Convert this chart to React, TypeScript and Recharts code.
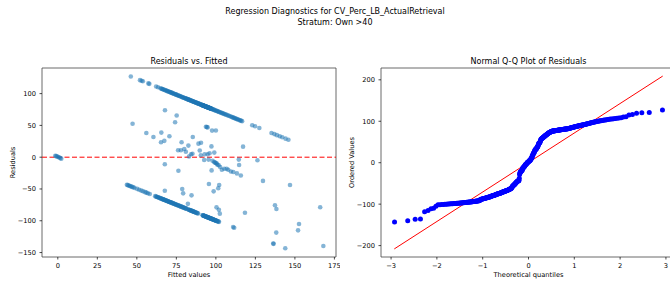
import { ScatterChart, Scatter, XAxis, YAxis, ReferenceLine, ReferenceArea } from 'recharts'

// [fitted, residual]
const upperBand: [number, number][] = [
  [46.2, 127.0], [52.0, 121.2], [53.0, 120.3], [53.8, 119.5], [57.3, 116.1], [57.9, 115.4], [62.2, 111.1], [63.4, 110.0], [65.0, 108.4],
  [65.6, 107.7], [66.1, 107.3], [66.4, 106.9], [67.0, 106.3], [67.7, 105.7], [68.0, 105.3], [68.6, 104.8], [69.1, 104.2], [69.4, 103.9], [70.0, 103.3], [70.5, 102.9], [70.9, 102.4],
  [71.3, 102.0], [71.9, 101.5], [72.2, 101.1], [72.7, 100.6], [73.1, 100.2], [73.4, 99.9], [74.0, 99.3], [74.5, 98.8], [74.9, 98.4], [75.2, 98.1], [75.8, 97.5], [76.3, 97.0],
  [76.6, 96.7], [77.1, 96.2], [77.4, 95.9], [78.0, 95.3], [78.5, 94.8], [78.9, 94.4], [79.3, 94.0], [79.7, 93.6], [80.2, 93.1], [80.6, 92.7], [81.0, 92.3],
  [81.3, 92.0], [81.5, 91.8], [81.9, 91.4], [82.3, 91.0], [82.5, 90.8], [82.8, 90.5], [83.2, 90.1], [83.4, 89.9], [83.7, 89.6], [84.1, 89.2], [84.3, 89.0],
  [84.6, 88.7], [85.0, 88.3], [85.2, 88.1], [85.5, 87.8], [85.9, 87.4], [86.1, 87.2], [86.4, 86.9], [86.8, 86.5], [87.0, 86.3], [87.3, 86.0], [87.7, 85.6],
  [87.9, 85.4], [88.2, 85.1], [88.6, 84.7], [88.8, 84.5], [89.1, 84.2], [89.5, 83.8], [89.7, 83.6], [90.0, 83.3], [90.4, 82.9], [90.6, 82.7], [90.9, 82.4],
  [91.1, 82.2], [91.2, 82.1], [91.4, 81.9], [91.5, 81.8], [91.7, 81.6], [91.8, 81.5], [91.9, 81.4], [92.1, 81.2], [92.2, 81.1], [92.4, 80.9], [92.5, 80.8],
  [92.7, 80.6], [92.8, 80.5], [92.9, 80.4], [93.1, 80.2], [93.2, 80.1], [93.3, 80.0], [93.5, 79.8], [93.6, 79.7], [93.8, 79.5], [93.9, 79.4], [94.0, 79.3],
  [94.2, 79.1], [94.3, 79.0], [94.5, 78.8], [94.6, 78.7], [94.7, 78.6], [94.9, 78.4], [95.0, 78.3], [95.2, 78.1], [95.3, 78.0], [95.4, 77.9], [95.6, 77.7],
  [95.7, 77.6], [95.9, 77.4], [96.0, 77.3], [96.1, 77.2], [96.3, 77.0], [96.4, 76.9], [96.5, 76.8], [96.7, 76.6], [96.8, 76.5], [97.0, 76.3], [97.1, 76.2], [97.3, 76.0],
  [97.6, 75.7], [98.0, 75.3], [98.5, 74.8], [98.9, 74.4], [99.4, 73.9], [99.8, 73.5], [100.3, 73.0], [100.8, 72.5], [101.2, 72.1], [101.8, 71.5], [102.3, 71.0],
  [102.9, 70.4], [103.4, 69.9], [104.0, 69.3], [104.6, 68.7], [105.1, 68.2], [105.8, 67.5], [106.4, 66.9], [107.1, 66.2], [107.9, 65.4], [108.6, 64.7], [109.4, 63.9],
  [110.1, 63.2], [110.7, 62.6], [111.3, 62.0], [111.8, 61.5], [112.4, 60.9], [113.0, 60.3], [113.5, 59.8], [114.1, 59.2], [114.8, 58.5], [115.4, 57.9], [116.0, 57.3], [116.6, 56.7],
  [123.0, 50.2], [124.8, 48.6], [127.5, 46.0],
  [135.2, 38.1], [137.0, 36.3], [138.6, 34.7], [140.4, 32.9], [142.0, 31.3], [144.1, 29.2], [145.9, 27.4],
]

const lowerBand: [number, number][] = [
  [43.7, -43.4], [44.3, -44.0], [44.9, -44.6], [45.6, -45.3], [46.2, -45.9], [47.0, -46.7], [47.7, -47.4], [48.5, -48.2], [50.2, -49.9], [51.5, -51.2], [52.9, -52.6],
  [54.0, -53.7], [55.3, -55.0], [56.1, -55.8], [57.0, -56.7], [58.2, -57.9],
  [61.6, -61.3], [62.1, -61.8], [62.5, -62.2], [62.9, -62.6], [63.4, -63.1], [63.7, -63.4], [64.3, -64.0], [64.6, -64.3], [65.1, -64.8], [65.4, -65.1], [65.8, -65.5],
  [66.1, -65.8], [66.5, -66.2], [66.7, -66.4], [67.1, -66.8], [67.3, -67.0], [67.6, -67.3], [68.0, -67.7], [68.2, -67.9], [68.5, -68.2], [68.9, -68.6], [69.1, -68.8],
  [69.4, -69.1], [69.8, -69.5], [70.0, -69.7], [70.3, -70.0], [70.7, -70.4], [70.9, -70.6], [71.2, -70.9], [71.6, -71.3], [71.8, -71.5], [72.2, -71.9], [72.6, -72.3],
  [72.9, -72.6], [73.2, -72.9], [73.7, -73.4], [73.9, -73.6], [74.3, -74.0], [74.7, -74.4], [75.0, -74.7], [75.3, -75.0], [75.8, -75.5], [76.0, -75.7], [76.4, -76.1],
  [76.9, -76.6], [77.2, -76.9], [77.6, -77.3], [78.1, -77.8], [78.4, -78.1], [78.8, -78.5], [79.3, -79.0], [79.6, -79.3], [80.0, -79.7], [80.5, -80.2], [80.8, -80.5],
  [81.2, -80.9], [81.5, -81.2],
  [82.6, -82.3], [82.9, -82.6], [83.3, -83.0], [83.5, -83.2], [83.9, -83.6], [84.2, -83.9], [84.6, -84.3], [84.8, -84.5], [85.1, -84.8], [85.5, -85.2], [85.7, -85.4],
  [86.0, -85.7], [86.4, -86.1], [86.6, -86.3], [86.9, -86.6], [87.3, -87.0], [87.6, -87.3], [88.0, -87.7], [88.3, -88.0], [88.8, -88.5],
  [91.6, -91.3], [91.8, -91.5], [92.0, -91.7], [92.3, -92.0], [92.4, -92.1], [92.6, -92.3], [92.9, -92.6], [93.0, -92.7], [93.2, -92.9], [93.5, -93.2], [93.6, -93.3],
  [93.8, -93.5], [94.1, -93.8], [94.2, -93.9], [94.4, -94.1], [94.7, -94.4], [94.8, -94.5], [95.0, -94.7], [95.3, -95.0], [95.4, -95.1], [95.6, -95.3], [95.9, -95.6],
  [96.0, -95.7], [96.2, -95.9], [96.5, -96.2], [96.6, -96.3], [96.8, -96.5], [97.1, -96.8], [97.2, -96.9], [97.4, -97.1], [97.7, -97.4], [97.8, -97.5], [98.0, -97.7],
  [98.3, -98.0], [98.4, -98.1], [98.6, -98.3], [98.9, -98.6], [99.0, -98.7], [99.2, -98.9], [99.5, -99.2], [99.6, -99.3], [99.8, -99.5], [100.1, -99.8], [100.3, -100.0],
  [100.6, -100.3], [100.9, -100.6], [101.2, -100.9], [101.6, -101.3], [102.0, -101.7],
]

const nearZero: [number, number][] = [
  [-1.6, 2.1], [-1.0, 1.6], [-0.4, 1.0], [0.3, 0.3], [0.9, -0.5], [1.6, -1.4], [2.2, -2.3],
]

const scatterPos: [number, number][] = [
  [47.3, 52.5], [67.8, 73.9], [75.2, 65.6], [74.2, 55.0], [56.0, 38.0], [60.5, 31.7], [65.5, 38.7], [70.6, 33.0], [65.3, 23.6], [67.4, 25.7],
  [78.3, 23.4], [76.1, 10.9], [77.9, 10.9], [80.0, 12.8], [82.6, 18.2], [81.0, 8.5], [84.3, 4.6], [85.2, 5.4], [85.4, 31.7], [89.0, 21.3],
  [90.6, 22.8], [89.8, 10.6], [90.5, 3.1], [92.9, 4.7], [94.8, 4.7], [96.0, 6.2], [97.2, 17.0], [99.0, 7.2], [93.7, 47.8], [94.3, 47.3],
  [94.8, 46.9], [97.6, 41.8], [100.0, 42.1], [117.2, 16.6], [83.0, 1.0],
]

const scatterNeg: [number, number][] = [
  [92.6, -4.5], [95.4, -3.8], [97.9, -5.6], [98.9, -7.7], [99.5, -8.5], [100.0, -9.2], [100.6, -10.1], [101.0, -11.9], [101.8, -12.6], [102.7, -15.5],
  [103.8, -19.7], [105.3, -18.2], [106.8, -18.2], [107.8, -19.7], [109.5, -22.4], [111.0, -23.4], [113.3, -25.5], [115.8, -28.7], [97.3, -20.8], [114.5, -3.8],
  [114.7, -12.2], [126.3, -4.7], [67.7, -11.0], [76.3, -21.4], [95.6, -42.2], [98.6, -53.7], [101.5, -48.8], [102.1, -43.8], [67.7, -52.7], [78.7, -50.0],
  [79.3, -56.9], [84.6, -60.0], [82.3, -73.4], [100.4, -78.9], [101.9, -82.6], [102.5, -88.8], [118.4, -87.5], [129.8, -37.3], [146.9, -43.8], [137.4, -75.6],
  [138.3, -81.6], [138.2, -118.6], [136.3, -135.8], [136.5, -136.3], [143.9, -143.2], [152.6, -105.0], [152.0, -115.1], [166.0, -78.7], [168.0, -139.8],
  [110.9, -110.0], [111.6, -111.0],
]

const fittedTicks = [0, 25, 50, 75, 100, 125, 150, 175]
const residTicks = [-150, -100, -50, 0, 50, 100]
const quantTicks = [-3, -2, -1, 0, 1, 2, 3]
const orderedTicks = [-200, -100, 0, 100, 200]

// least-squares line of the probability plot, endpoints
const qqLine = [
  { x: -2.93, y: -208 },
  { x: 2.93, y: 209 },
]

const FONT = 'DejaVu Sans'
const minus = (v: number) => String(v).replace('-', '\u2212')

const allPairs = [...nearZero, ...upperBand, ...lowerBand, ...scatterPos, ...scatterNeg]
const residualPoints = allPairs.map(([x, y]) => ({ x, y }))

// inverse normal cdf (Acklam)
function normInv(p: number): number {
  const a = [-39.69683028665376, 220.9460984245205, -275.9285104469687, 138.357751867269, -30.66479806614716, 2.506628277459239]
  const b = [-54.47609879822406, 161.5858368580409, -155.6989798598866, 66.80131188771972, -13.28068155288572]
  const c = [-0.007784894002430293, -0.3223964580411365, -2.400758277161838, -2.549732539343734, 4.374664141464968, 2.938163982698783]
  const d = [0.007784695709041462, 0.3224671290700398, 2.445134137142996, 3.754408661907416]
  const lo = 0.02425
  if (p < lo) {
    const q = Math.sqrt(-2 * Math.log(p))
    return (((((c[0] * q + c[1]) * q + c[2]) * q + c[3]) * q + c[4]) * q + c[5]) / ((((d[0] * q + d[1]) * q + d[2]) * q + d[3]) * q + 1)
  }
  if (p > 1 - lo) {
    const q = Math.sqrt(-2 * Math.log(1 - p))
    return -(((((c[0] * q + c[1]) * q + c[2]) * q + c[3]) * q + c[4]) * q + c[5]) / ((((d[0] * q + d[1]) * q + d[2]) * q + d[3]) * q + 1)
  }
  const q = p - 0.5
  const r = q * q
  return ((((((a[0] * r + a[1]) * r + a[2]) * r + a[3]) * r + a[4]) * r + a[5]) * q) / (((((b[0] * r + b[1]) * r + b[2]) * r + b[3]) * r + b[4]) * r + 1)
}

// probability plot points: ordered residuals vs Filliben order-statistic medians
const sorted = allPairs.map((p) => p[1]).sort((a, b) => a - b)
const n = sorted.length
const qqPoints = sorted.map((y, i) => {
  const last = Math.pow(0.5, 1 / n)
  const m = i === 0 ? 1 - last : i === n - 1 ? last : (i + 1 - 0.3175) / (n + 0.365)
  return { x: normInv(m), y }
})

const tickStyle = { fontSize: 6.67, fill: '#000', fontFamily: FONT }

const leftDot = (p: any) => <circle cx={p.cx} cy={p.cy} r={2.3} fill="#1f77b4" fillOpacity={0.55} />
const blueDot = (p: any) => <circle cx={p.cx} cy={p.cy} r={2.5} fill="#0000ff" />

export default function App() {
  return (
    <div style={{ position: 'fixed', left: 0, top: 0, width: 670, height: 283, overflow: 'hidden', background: '#fff' }}>
      <div style={{ position: 'absolute', left: 0, top: 0 }}>
        <ScatterChart width={340} height={283} margin={{ top: 68, right: 4, bottom: 0, left: 0 }}>
          <XAxis
            type="number"
            dataKey="x"
            domain={[-10, 176]}
            ticks={fittedTicks}
            allowDataOverflow
            height={26}
            tick={tickStyle}
            tickFormatter={minus}
            tickSize={2.5}
            tickMargin={3.5}
            axisLine={false}
            tickLine={{ stroke: '#000', strokeWidth: 0.7 }}
          />
          <YAxis
            type="number"
            dataKey="y"
            domain={[-157, 140.3]}
            ticks={residTicks}
            allowDataOverflow
            width={42}
            tick={tickStyle}
            tickFormatter={minus}
            tickSize={2.5}
            tickMargin={3.5}
            axisLine={false}
            tickLine={{ stroke: '#000', strokeWidth: 0.7 }}
          />
          <ReferenceArea x1={-10} x2={176} y1={-157} y2={140.3} fill="none" stroke="#444" strokeWidth={0.8} />
          <Scatter data={residualPoints} shape={leftDot} isAnimationActive={false} />
          <ReferenceLine y={0} stroke="#ff0000" strokeDasharray="5 2.5" strokeWidth={1} />
        </ScatterChart>
      </div>
      <div style={{ position: 'absolute', left: 340, top: 0 }}>
        <ScatterChart width={340} height={283} margin={{ top: 68, right: 4, bottom: 0, left: 0 }}>
          <XAxis
            type="number"
            dataKey="x"
            domain={[-3.22, 3.22]}
            ticks={quantTicks}
            interval={0}
            allowDataOverflow
            height={26}
            tick={tickStyle}
            tickFormatter={minus}
            tickSize={2.5}
            tickMargin={3.5}
            axisLine={false}
            tickLine={{ stroke: '#000', strokeWidth: 0.7 }}
          />
          <YAxis
            type="number"
            dataKey="y"
            domain={[-227.5, 228.5]}
            ticks={orderedTicks}
            allowDataOverflow
            width={41}
            tick={tickStyle}
            tickFormatter={minus}
            tickSize={2.5}
            tickMargin={3.5}
            axisLine={false}
            tickLine={{ stroke: '#000', strokeWidth: 0.7 }}
          />
          <ReferenceArea x1={-3.22} x2={3.22} y1={-227.5} y2={228.5} fill="none" stroke="#444" strokeWidth={0.8} />
          <Scatter data={qqPoints} shape={blueDot} isAnimationActive={false} />
          <ReferenceLine segment={qqLine} stroke="#ff0000" strokeWidth={1} />
        </ScatterChart>
      </div>
      <svg width={670} height={283} style={{ position: 'absolute', left: 0, top: 0, pointerEvents: 'none' }} fontFamily={FONT}>
        <text x={335} y={14.1} fontSize={8} textAnchor="middle">Regression Diagnostics for CV_Perc_LB_ActualRetrieval</text>
        <text x={335} y={25.2} fontSize={8} textAnchor="middle">Stratum: Own &gt;40</text>
        <text x={189} y={63.6} fontSize={8} textAnchor="middle">Residuals vs. Fitted</text>
        <text x={528.5} y={63.6} fontSize={8} textAnchor="middle">Normal Q-Q Plot of Residuals</text>
        <text x={189} y={277.3} fontSize={6.67} textAnchor="middle">Fitted values</text>
        <text x={528.5} y={277.3} fontSize={6.67} textAnchor="middle">Theoretical quantiles</text>
        <text x={15.2} y={162.5} fontSize={6.67} textAnchor="middle" transform="rotate(-90 15.2 162.5)">Residuals</text>
        <text x={354.2} y={162.5} fontSize={6.67} textAnchor="middle" transform="rotate(-90 354.2 162.5)">Ordered Values</text>
      </svg>
    </div>
  )
}
